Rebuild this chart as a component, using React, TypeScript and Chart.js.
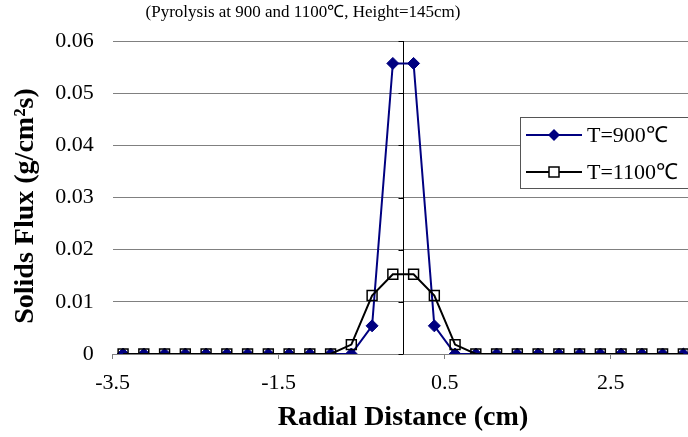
import React, { useEffect, useRef } from 'react';
import { Chart, registerables } from 'chart.js';

Chart.register(...registerables);

// ---- data ----
const radialDistance = [
  -3.375, -3.125, -2.875, -2.625, -2.375, -2.125, -1.875, -1.625, -1.375, -1.125,
  -0.875, -0.625, -0.375, -0.125, 0.125, 0.375, 0.625, 0.875, 1.125, 1.375,
  1.625, 1.875, 2.125, 2.375, 2.625, 2.875, 3.125, 3.375,
];
const flux900 = [
  0, 0, 0, 0, 0, 0, 0, 0, 0, 0,
  0, 0, 0.0054, 0.0557, 0.0557, 0.0054, 0, 0, 0, 0,
  0, 0, 0, 0, 0, 0, 0, 0,
];
const flux1100 = [
  0, 0, 0, 0, 0, 0, 0, 0, 0, 0,
  0, 0.0018, 0.0112, 0.0153, 0.0153, 0.0112, 0.0018, 0, 0, 0,
  0, 0, 0, 0, 0, 0, 0, 0,
];
const xTickValues = [-3.5, -1.5, 0.5, 2.5];
const seriesNames = ['T=900\u2103', 'T=1100\u2103'];
const chartTitle = '(Pyrolysis at 900 and 1100\u2103, Height=145cm)';
const xTitle = 'Radial Distance (cm)';
const yTitle = 'Solids Flux (g/cm\u00B2s)';

const FONT = "'Liberation Serif', 'Times New Roman', serif";
const NAVY = '#000080';

const overlay = {
  id: 'overlay',
  beforeDatasetsDraw(chart: any) {
    const { ctx, chartArea, scales } = chart;
    const xs = scales.x;
    const ys = scales.y;
    const x0 = Math.round(xs.getPixelForValue(0)) + 0.5;
    ctx.save();
    ctx.strokeStyle = '#000';
    ctx.lineWidth = 1;
    ctx.beginPath();
    ctx.moveTo(x0, chartArea.top);
    ctx.lineTo(x0, chartArea.bottom);
    ys.ticks.forEach((t: any) => {
      const py = Math.round(ys.getPixelForValue(t.value)) + 0.5;
      ctx.moveTo(x0 - 5, py);
      ctx.lineTo(x0, py);
    });
    ctx.stroke();
    ctx.restore();
  },
  afterDraw(chart: any) {
    const { ctx } = chart;
    ctx.save();
    ctx.fillStyle = '#000';
    // chart title
    ctx.font = `17px ${FONT}`;
    ctx.textAlign = 'center';
    ctx.textBaseline = 'middle';
    ctx.fillText(chartTitle, 303, 13);
    // x title
    ctx.font = `bold 28px ${FONT}`;
    ctx.fillText(xTitle, 403, 418);
    // y title
    ctx.save();
    ctx.translate(26, 206);
    ctx.rotate(-Math.PI / 2);
    ctx.fillText(yTitle, 0, 0);
    ctx.restore();

    // legend
    const lx = 520.5, ly = 117.5, lw = 200, lh = 71;
    ctx.fillStyle = '#fff';
    ctx.fillRect(lx, ly, lw, lh);
    ctx.strokeStyle = '#555';
    ctx.lineWidth = 1;
    ctx.strokeRect(lx, ly, lw, lh);

    const rows = [135, 172];
    // entry 1
    ctx.strokeStyle = NAVY;
    ctx.lineWidth = 2;
    ctx.beginPath();
    ctx.moveTo(526, rows[0]);
    ctx.lineTo(582, rows[0]);
    ctx.stroke();
    ctx.fillStyle = NAVY;
    ctx.beginPath();
    ctx.moveTo(554 - 6, rows[0]);
    ctx.lineTo(554, rows[0] - 6);
    ctx.lineTo(554 + 6, rows[0]);
    ctx.lineTo(554, rows[0] + 6);
    ctx.closePath();
    ctx.fill();
    // entry 2
    ctx.strokeStyle = '#000';
    ctx.lineWidth = 2;
    ctx.beginPath();
    ctx.moveTo(526, rows[1]);
    ctx.lineTo(582, rows[1]);
    ctx.stroke();
    ctx.fillStyle = '#fff';
    ctx.fillRect(549, rows[1] - 5, 10, 10);
    ctx.lineWidth = 1.5;
    ctx.strokeRect(549, rows[1] - 5, 10, 10);

    ctx.fillStyle = '#000';
    ctx.font = `22px ${FONT}`;
    ctx.textAlign = 'left';
    ctx.textBaseline = 'middle';
    ctx.fillText(seriesNames[0], 587, rows[0] + 1);
    ctx.fillText(seriesNames[1], 587, rows[1] + 1);
    ctx.restore();
  },
};

export default function App() {
  const ref = useRef<HTMLCanvasElement | null>(null);
  useEffect(() => {
    document.body.style.margin = '0';
    const canvas = ref.current;
    if (!canvas) return;
    const chart = new Chart(canvas, {
      type: 'line',
      data: {
        datasets: [
          {
            label: seriesNames[1],
            data: radialDistance.map((x, i) => ({ x, y: flux1100[i] })),
            borderColor: '#000',
            borderWidth: 2,
            pointStyle: 'rect',
            pointRadius: 7,
            pointBorderWidth: 1.5,
            pointBorderColor: '#000',
            pointBackgroundColor: 'rgba(255,255,255,0)',
            fill: false,
            tension: 0,
            order: 1,
          },
          {
            label: seriesNames[0],
            data: radialDistance.map((x, i) => ({ x, y: flux900[i] })),
            borderColor: NAVY,
            borderWidth: 2,
            pointStyle: 'rectRot',
            pointRadius: 6,
            pointBorderWidth: 1,
            pointBorderColor: NAVY,
            pointBackgroundColor: NAVY,
            fill: false,
            tension: 0,
            order: 2,
          },
        ],
      },
      options: {
        responsive: false,
        animation: false,
        events: [],
        layout: { autoPadding: false, padding: { top: 41, left: 0, right: 0, bottom: 0 } },
        plugins: {
          legend: { display: false },
          title: { display: false },
          tooltip: { enabled: false },
        },
        scales: {
          x: {
            type: 'linear',
            min: -3.5,
            max: 3.431,
            afterBuildTicks: (s: any) => {
              s.ticks = xTickValues.map((v) => ({ value: v }));
            },
            afterFit: (s: any) => {
              s.height = 83;
              s.paddingRight = 0;
              s.paddingLeft = 0;
            },
            grid: {
              drawOnChartArea: false,
              drawTicks: true,
              tickLength: 5,
              color: '#808080',
            },
            border: { display: true, color: '#808080', width: 1 },
            ticks: {
              autoSkip: false,
              maxRotation: 0,
              padding: 11,
              color: '#000',
              font: { family: FONT, size: 22 },
              callback: (v: any) => String(v),
            },
          },
          y: {
            type: 'linear',
            min: 0,
            max: 0.06,
            afterFit: (s: any) => {
              s.width = 112.7;
              s.paddingTop = 0;
              s.paddingBottom = 0;
            },
            grid: { color: '#808080', drawTicks: false, lineWidth: 1 },
            border: { display: false },
            ticks: {
              stepSize: 0.01,
              padding: 19,
              color: '#000',
              font: { family: FONT, size: 22 },
              callback: (v: any) => (Number(v) === 0 ? '0' : Number(v).toFixed(2)),
            },
          },
        },
      },
      plugins: [overlay],
    } as any);
    return () => chart.destroy();
  }, []);
  return (
    <div style={{ position: 'absolute', left: 0, top: 0, width: 688, height: 437 }}>
      <canvas ref={ref} width={688} height={437} style={{ display: 'block' }} />
    </div>
  );
}
